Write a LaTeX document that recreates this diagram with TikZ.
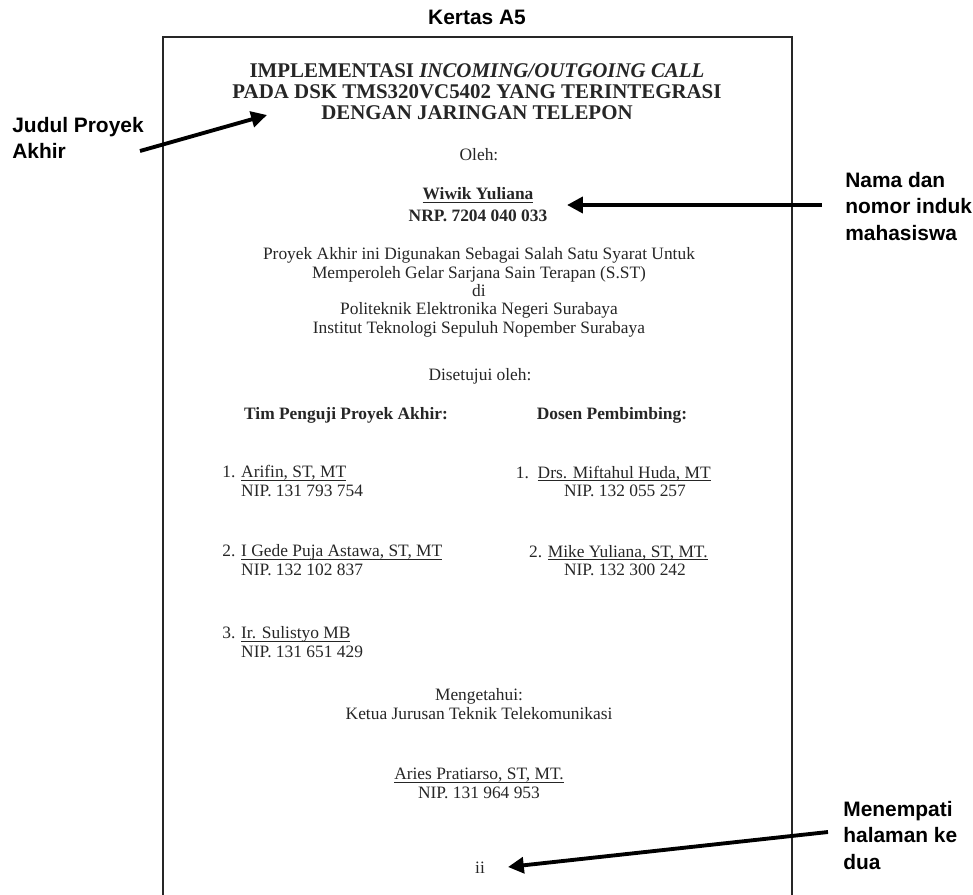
\documentclass[tikz,border=0pt]{standalone}
\usepackage{fontspec}
\setmainfont{Liberation Serif}
\newfontfamily\ketfont{Liberation Sans}
\usetikzlibrary{arrows.meta}

% garis bawah dekat dengan teks
\newcommand{\garisbawah}[1]{\setbox0\hbox{#1}\rlap{\rule[-1.8pt]{\wd0}{0.5pt}}\box0}

\begin{document}
\begin{tikzpicture}[
    x=0.02cm, y=-0.02cm,
    ket/.style={font=\ketfont\bfseries\fontsize{11.9}{15}\selectfont, align=left, inner sep=0pt, anchor=base west},
    isi/.style={font=\fontsize{9.9}{10.4}\selectfont, text=black!85, inner sep=0pt, anchor=base},
    tebal/.style={isi, font=\bfseries\fontsize{9.9}{12}\selectfont},
    judul/.style={isi, font=\bfseries\fontsize{11.9}{12.2}\selectfont, align=center},
    panah/.style={line width=2.2pt, -{Triangle[length=9pt,width=9pt]}}
  ]
  \useasboundingbox (0,0) rectangle (973,895);

  % kertas
  \node[ket, anchor=base] (kertas) at (477,25) {Kertas A5};
  \draw[line width=1.1pt, black!85] (163,895) -- (163,37) -- (792,37) -- (792,895);

  % isi halaman (base = garis dasar baris terakhir)
  \node[judul] (judul) at (477,120) {IMPLEMENTASI \textit{INCOMING/OUTGOING CALL}\\PADA DSK TMS320VC5402 YANG TERINTEGRASI\\DENGAN JARINGAN TELEPON};
  \node[isi] (oleh) at (479,161) {Oleh:};
  \node[tebal, align=center] (mhs) at (478,221) {\garisbawah{Wiwik Yuliana}\\NRP. 7204 040 033};
  \node[isi, align=center] (syarat) at (479,333) {Proyek Akhir ini Digunakan Sebagai Salah Satu Syarat Untuk\\Memperoleh Gelar Sarjana Sain Terapan (S.ST)\\di\\Politeknik Elektronika Negeri Surabaya\\Institut Teknologi Sepuluh Nopember Surabaya};
  \node[isi] (setuju) at (480,380) {Disetujui oleh:};
  \node[tebal] (penguji) at (346,419) {Tim Penguji Proyek Akhir:};
  \node[tebal] (pembimbing) at (612,419) {Dosen Pembimbing:};

  \node[isi, anchor=base west, align=left] (penguji1) at (222,496) {1. \garisbawah{Arifin, ST, MT}\\\hphantom{1. }NIP. 131 793 754};
  \node[isi, anchor=base west, align=left] (penguji2) at (222,575) {2. \garisbawah{I Gede Puja Astawa, ST, MT}\\\hphantom{2. }NIP. 132 102 837};
  \node[isi, anchor=base west, align=left] (penguji3) at (222,657) {3. \garisbawah{Ir. Sulistyo MB}\\\hphantom{3. }NIP. 131 651 429};

  \node[isi, anchor=base east] (pembimbing1) at (711,478) {1.\ \ \garisbawah{Drs. Miftahul Huda, MT}};
  \node[isi] (nip1) at (625,496) {NIP. 132 055 257};
  \node[isi, anchor=base east] (pembimbing2) at (708,557) {2. \garisbawah{Mike Yuliana, ST, MT.}};
  \node[isi] (nip2) at (625,575) {NIP. 132 300 242};

  \node[isi, align=center] (mengetahui) at (479,719) {Mengetahui:\\Ketua Jurusan Teknik Telekomunikasi};
  \node[isi, align=center] (kajur) at (479,798) {\garisbawah{Aries Pratiarso, ST, MT.}\\NIP. 131 964 953};
  \node[isi] (hal) at (480,873) {ii};

  % keterangan
  \node[ket] (ket-judul) at (12,159) {Judul Proyek\\Akhir};
  \node[ket] (ket-nama) at (845,240) {Nama dan\\nomor induk\\mahasiswa};
  \node[ket] (ket-hal) at (843,869) {Menempati\\halaman ke\\dua};

  \coordinate (judul-pangkal) at (140,151);
  \coordinate (judul-ujung) at (267,115);
  \coordinate (nama-pangkal) at (822,205);
  \coordinate (nama-ujung) at (567,205);
  \coordinate (hal-pangkal) at (828,832);
  \coordinate (hal-ujung) at (508,867);
  \draw[panah] (judul-pangkal) -- (judul-ujung);
  \draw[panah] (nama-pangkal) -- (nama-ujung);
  \draw[panah] (hal-pangkal) -- (hal-ujung);
\end{tikzpicture}
\end{document}
